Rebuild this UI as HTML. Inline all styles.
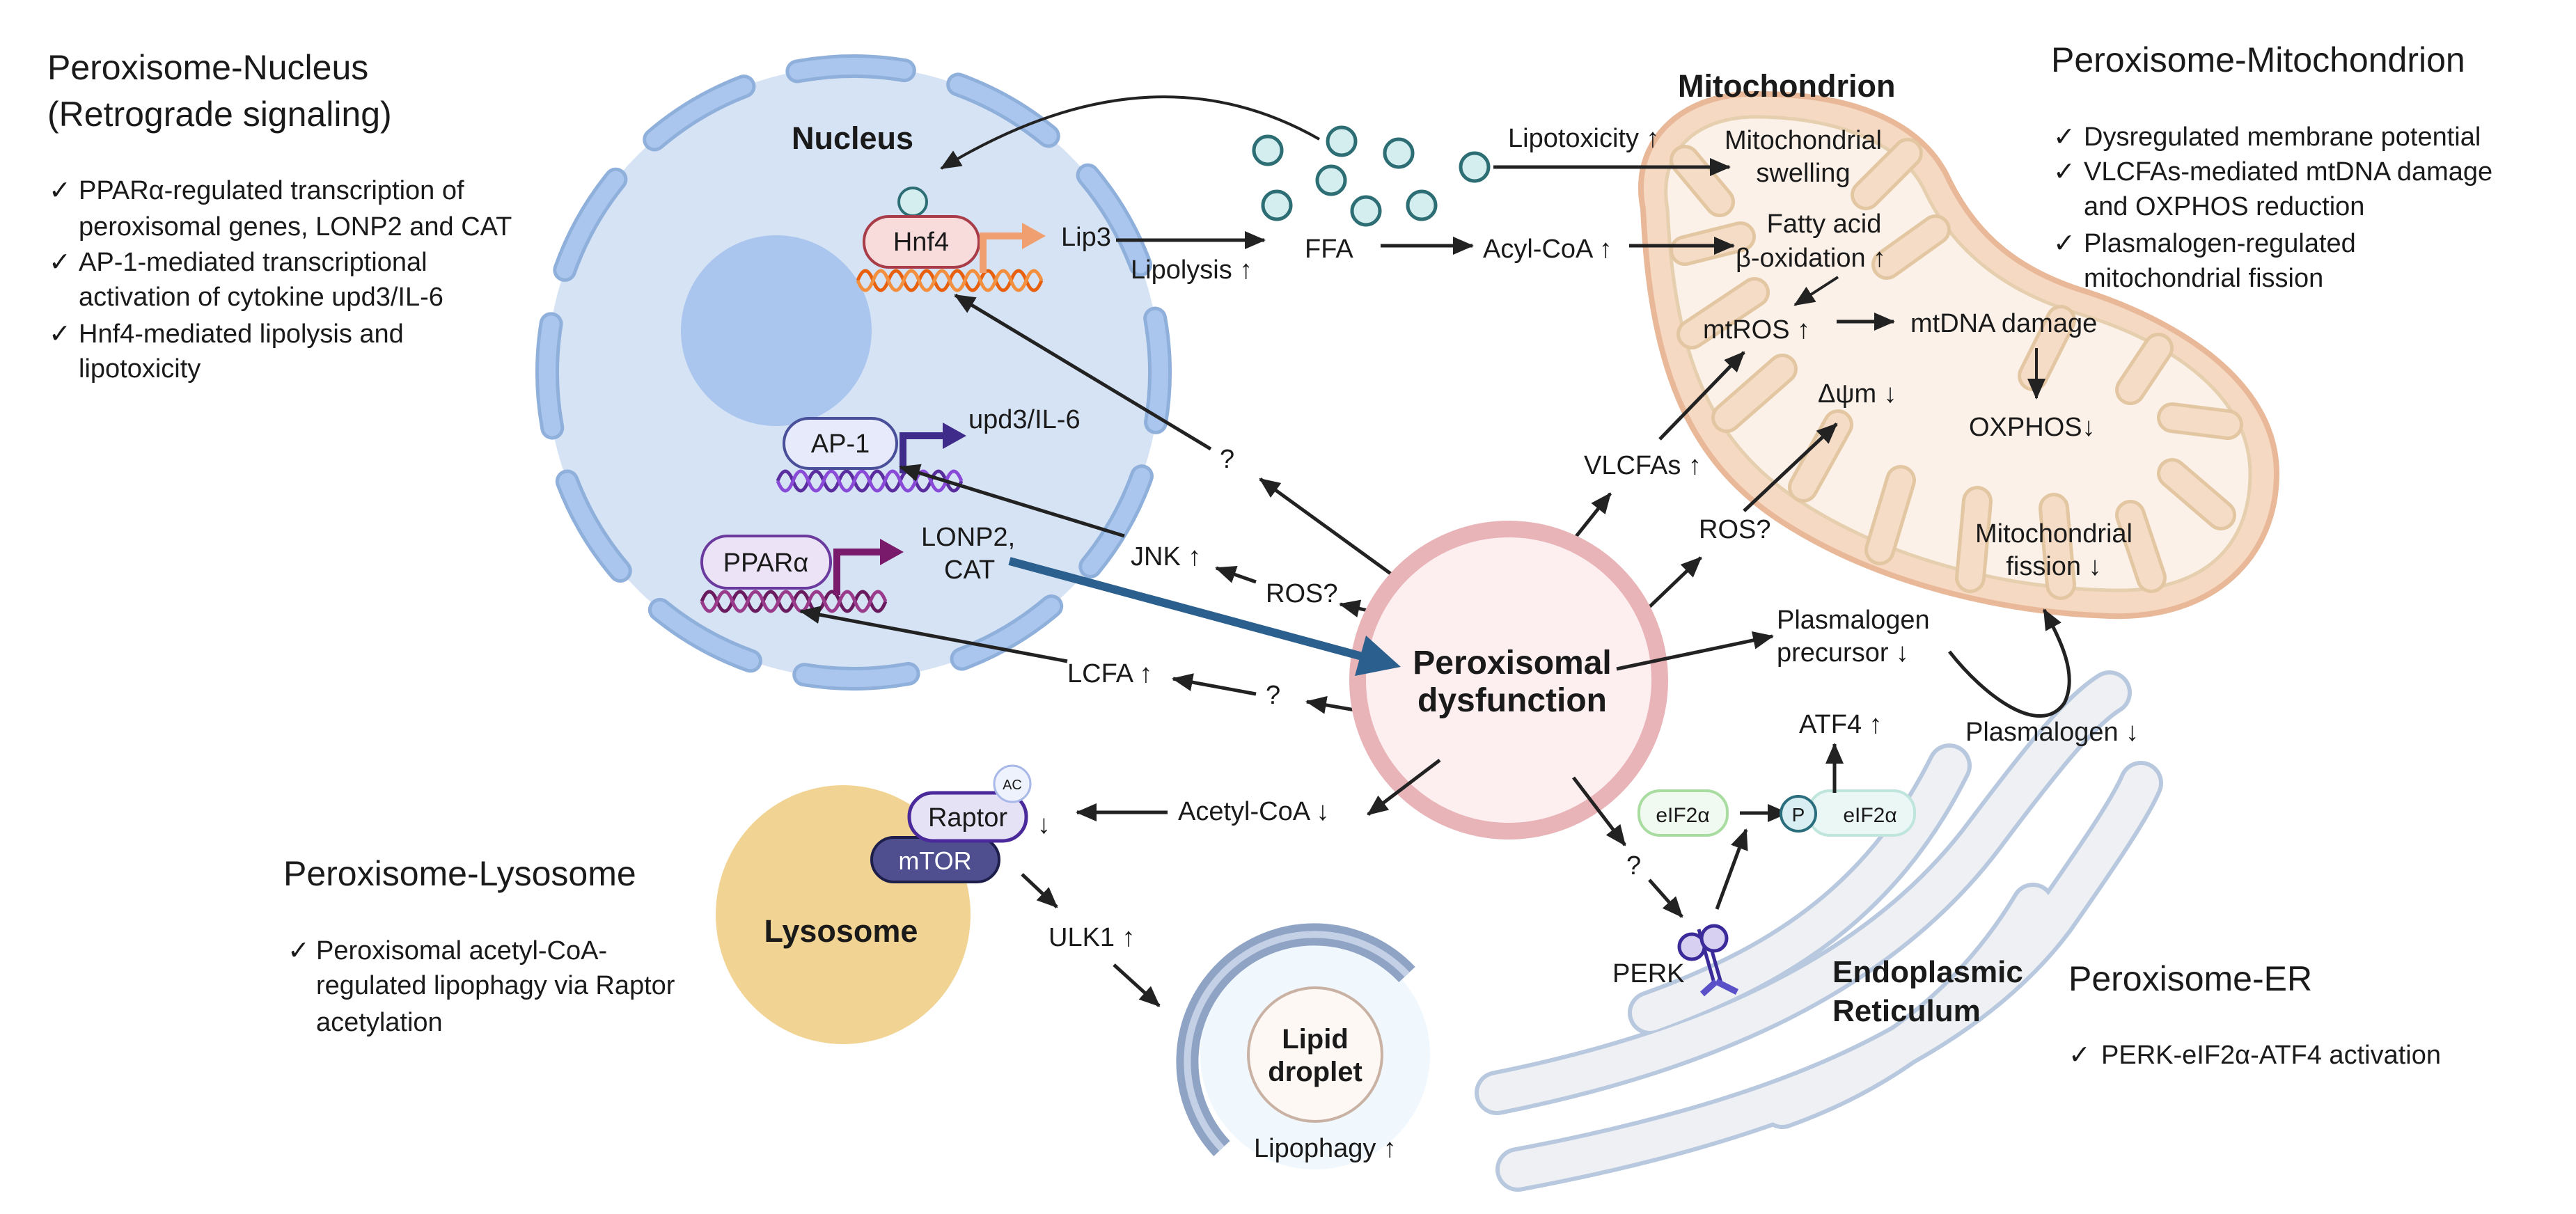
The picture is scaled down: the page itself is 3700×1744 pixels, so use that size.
<!DOCTYPE html>
<html><head><meta charset="utf-8"><style>
html,body{margin:0;padding:0;background:#fff}
svg{display:block}
text{font-family:"Liberation Sans",Arial,sans-serif;fill:#1a1a1a}
.t{font-size:50px}
.b{font-size:38px}
.l{font-size:38px}
.bd{font-weight:bold;font-size:45px}
</style></head><body>
<svg width="3700" height="1744" viewBox="0 0 3700 1744" xmlns="http://www.w3.org/2000/svg">
<defs>
<marker id="a" markerUnits="userSpaceOnUse" markerWidth="30" markerHeight="26" viewBox="0 0 30 26" refX="28" refY="13" orient="auto"><path d="M0,0 L30,13 L0,26 z" fill="#222"/></marker>
</defs>

<!-- Left text -->
<text class="t" x="68" y="114">Peroxisome-Nucleus</text>
<text class="t" x="68" y="181">(Retrograde signaling)</text>
<g class="b">
<text class="b" x="70" y="286">✓</text><text class="b" x="113" y="286">PPARα-regulated transcription of</text>
<text class="b" x="113" y="338">peroxisomal genes, LONP2 and CAT</text>
<text class="b" x="70" y="389">✓</text><text class="b" x="113" y="389">AP-1-mediated transcriptional</text>
<text class="b" x="113" y="439">activation of cytokine upd3/IL-6</text>
<text class="b" x="70" y="492">✓</text><text class="b" x="113" y="492">Hnf4-mediated lipolysis and</text>
<text class="b" x="113" y="542">lipotoxicity</text>
</g>

<!-- Nucleus -->
<circle cx="1226" cy="535" r="440" fill="#d6e3f4"/>
<circle cx="1226" cy="535" r="440" fill="none" stroke="#90b0dc" stroke-width="34" stroke-dasharray="150 80" stroke-linecap="round" transform="rotate(-100 1226 535)"/>
<circle cx="1226" cy="535" r="440" fill="none" stroke="#abc6ee" stroke-width="24" stroke-dasharray="150 80" stroke-linecap="round" transform="rotate(-100 1226 535)"/>
<circle cx="1115" cy="475" r="137" fill="#aac6ee"/>
<text class="bd" x="1137" y="214">Nucleus</text>

<!-- Hnf4 -->
<circle cx="1311" cy="290" r="20" fill="#d4eef0" stroke="#2d6e75" stroke-width="4"/>
<path d="M1232 403 q11 -28 22 0 t22 0 t22 0 t22 0 t22 0 t22 0 t22 0 t22 0 t22 0 t22 0 t22 0 t22 0" fill="none" stroke="#e8600e" stroke-width="5"/>
<path d="M1232 403 q11 28 22 0 t22 0 t22 0 t22 0 t22 0 t22 0 t22 0 t22 0 t22 0 t22 0 t22 0 t22 0" fill="none" stroke="#f39040" stroke-width="5"/>
<rect x="1241" y="311" width="165" height="73" rx="36" fill="#f8dcdc" stroke="#a83c48" stroke-width="4"/>
<text class="l" x="1323" y="360" text-anchor="middle">Hnf4</text>
<path d="M1412 392 V339 H1472" fill="none" stroke="#f0a070" stroke-width="10"/>
<path d="M1468 320 L1502 339 L1468 358 z" fill="#f0a070"/>
<text class="l" x="1524" y="353">Lip3</text>
<text class="l" x="1624" y="400">Lipolysis ↑</text>
<line x1="1603" y1="345" x2="1816" y2="345" stroke="#222" stroke-width="5" marker-end="url(#a)"/>

<!-- AP-1 -->
<path d="M1117 691 q11 -28 22 0 t22 0 t22 0 t22 0 t22 0 t22 0 t22 0 t22 0 t22 0 t22 0 t22 0 t22 0" fill="none" stroke="#5a2d9e" stroke-width="5"/>
<path d="M1117 691 q11 28 22 0 t22 0 t22 0 t22 0 t22 0 t22 0 t22 0 t22 0 t22 0 t22 0 t22 0 t22 0" fill="none" stroke="#8a4ad8" stroke-width="5"/>
<rect x="1126" y="601" width="162" height="72" rx="36" fill="#e6eafa" stroke="#4a4f9a" stroke-width="4"/>
<text class="l" x="1207" y="650" text-anchor="middle">AP-1</text>
<path d="M1297 680 V626 H1358" fill="none" stroke="#3e2b8a" stroke-width="10"/>
<path d="M1354 607 L1388 626 L1354 645 z" fill="#3e2b8a"/>
<text class="l" x="1391" y="615">upd3/IL-6</text>

<!-- PPARa -->
<path d="M1008 864 q11 -28 22 0 t22 0 t22 0 t22 0 t22 0 t22 0 t22 0 t22 0 t22 0 t22 0 t22 0 t22 0" fill="none" stroke="#6a1a5e" stroke-width="5"/>
<path d="M1008 864 q11 28 22 0 t22 0 t22 0 t22 0 t22 0 t22 0 t22 0 t22 0 t22 0 t22 0 t22 0 t22 0" fill="none" stroke="#9a3a8a" stroke-width="5"/>
<rect x="1008" y="770" width="185" height="75" rx="37" fill="#ece4f6" stroke="#6a3a9e" stroke-width="4"/>
<text class="l" x="1100" y="821" text-anchor="middle">PPARα</text>
<path d="M1202 855 V793 H1268" fill="none" stroke="#7a1a6a" stroke-width="10"/>
<path d="M1264 774 L1298 793 L1264 812 z" fill="#7a1a6a"/>
<text class="l" x="1323" y="784">LONP2,</text>
<text class="l" x="1356" y="831">CAT</text>

<!-- arrows into nucleus -->
<path d="M1895 200 Q1650 60 1352 242" fill="none" stroke="#222" stroke-width="4" marker-end="url(#a)"/>
<text class="l" x="1752" y="672">?</text>
<line x1="1739" y1="645" x2="1372" y2="424" stroke="#222" stroke-width="5" marker-end="url(#a)"/>
<text class="l" x="1624" y="812">JNK ↑</text>
<line x1="1615" y1="770" x2="1293" y2="671" stroke="#222" stroke-width="5" marker-end="url(#a)"/>
<text class="l" x="1818" y="865">ROS?</text>
<line x1="1804" y1="836" x2="1747" y2="816" stroke="#222" stroke-width="5" marker-end="url(#a)"/>
<line x1="1995" y1="884" x2="1925" y2="868" stroke="#222" stroke-width="5" marker-end="url(#a)"/>
<line x1="2058" y1="868" x2="1810" y2="688" stroke="#222" stroke-width="5" marker-end="url(#a)"/>
<text class="l" x="1533" y="980">LCFA ↑</text>
<line x1="1804" y1="997" x2="1685" y2="975" stroke="#222" stroke-width="5" marker-end="url(#a)"/>
<text class="l" x="1818" y="1011">?</text>
<line x1="1992" y1="1028" x2="1877" y2="1008" stroke="#222" stroke-width="5" marker-end="url(#a)"/>
<line x1="1533" y1="950" x2="1150" y2="878" stroke="#222" stroke-width="5" marker-end="url(#a)"/>

<!-- FFA droplets -->
<g fill="#d4eef0" stroke="#2d6e75" stroke-width="5">
<circle cx="1821" cy="216" r="20"/><circle cx="1834" cy="295" r="20"/><circle cx="1927" cy="203" r="20"/>
<circle cx="2009" cy="220" r="20"/><circle cx="1912" cy="259" r="20"/><circle cx="2118" cy="240" r="20"/>
<circle cx="1962" cy="303" r="20"/><circle cx="2042" cy="295" r="20"/>
</g>
<text class="l" x="1874" y="370">FFA</text>
<line x1="1983" y1="353" x2="2115" y2="353" stroke="#222" stroke-width="5" marker-end="url(#a)"/>
<text class="l" x="2130" y="370">Acyl-CoA ↑</text>

<!-- Mitochondrion -->
<path d="M2360 300 C2340 200 2420 130 2530 135 C2650 135 2760 170 2800 260 C2840 340 2900 390 3000 420 C3150 470 3270 560 3270 680 C3270 800 3180 890 3030 885 C2880 880 2700 840 2560 750 C2420 660 2370 520 2360 300 Z" fill="#f5d9c2" stroke="#e8b898" stroke-width="8"/>
<path d="M2395 300 C2380 215 2440 165 2530 168 C2630 170 2730 200 2765 275 C2805 360 2880 420 2990 452 C3130 495 3232 575 3232 680 C3232 790 3160 852 3030 848 C2890 845 2720 808 2585 720 C2455 635 2405 510 2395 300 Z" fill="#fbf1e8" stroke="#e6cfae" stroke-width="5"/>
<g fill="none" stroke-linecap="round">
<g stroke="#e3c7a2" stroke-width="44">
<path d="M2420 230 L2470 290"/><path d="M2420 360 L2500 340"/><path d="M2430 480 L2520 420"/>
<path d="M2480 600 L2560 530"/><path d="M2590 700 L2640 610"/><path d="M2700 790 L2730 690"/>
<path d="M2830 830 L2840 720"/><path d="M2960 840 L2950 730"/><path d="M3090 830 L3060 740"/>
<path d="M3190 740 L3120 680"/><path d="M3200 610 L3120 600"/><path d="M3100 500 L3060 560"/>
<path d="M2960 460 L2920 540"/><path d="M2780 330 L2710 380"/><path d="M2740 220 L2680 280"/>
</g>
<g stroke="#f5dcc6" stroke-width="34">
<path d="M2420 230 L2470 290"/><path d="M2420 360 L2500 340"/><path d="M2430 480 L2520 420"/>
<path d="M2480 600 L2560 530"/><path d="M2590 700 L2640 610"/><path d="M2700 790 L2730 690"/>
<path d="M2830 830 L2840 720"/><path d="M2960 840 L2950 730"/><path d="M3090 830 L3060 740"/>
<path d="M3190 740 L3120 680"/><path d="M3200 610 L3120 600"/><path d="M3100 500 L3060 560"/>
<path d="M2960 460 L2920 540"/><path d="M2780 330 L2710 380"/><path d="M2740 220 L2680 280"/>
</g>
</g>
<text class="bd" x="2410" y="139">Mitochondrion</text>
<text class="l" x="2166" y="211">Lipotoxicity ↑</text>
<line x1="2145" y1="240" x2="2484" y2="240" stroke="#222" stroke-width="5" marker-end="url(#a)"/>
<text class="l" x="2590" y="214" text-anchor="middle">Mitochondrial</text>
<text class="l" x="2590" y="261" text-anchor="middle">swelling</text>
<line x1="2340" y1="353" x2="2490" y2="353" stroke="#222" stroke-width="5" marker-end="url(#a)"/>
<text class="l" x="2620" y="334" text-anchor="middle">Fatty acid</text>
<text class="l" x="2493" y="383">β-oxidation ↑</text>
<line x1="2640" y1="398" x2="2578" y2="438" stroke="#222" stroke-width="4" marker-end="url(#a)"/>
<text class="l" x="2446" y="486">mtROS ↑</text>
<line x1="2638" y1="462" x2="2720" y2="462" stroke="#222" stroke-width="5" marker-end="url(#a)"/>
<text class="l" x="2744" y="477">mtDNA damage</text>
<line x1="2925" y1="500" x2="2925" y2="572" stroke="#222" stroke-width="4" marker-end="url(#a)"/>
<text class="l" x="2828" y="626">OXPHOS↓</text>
<text class="l" x="2611" y="578">Δψm ↓</text>
<text class="l" x="2950" y="779" text-anchor="middle">Mitochondrial</text>
<text class="l" x="2950" y="826" text-anchor="middle">fission ↓</text>
<text class="l" x="2275" y="681">VLCFAs ↑</text>
<line x1="2384" y1="631" x2="2505" y2="506" stroke="#222" stroke-width="5" marker-end="url(#a)"/>
<text class="l" x="2440" y="773">ROS?</text>
<line x1="2505" y1="734" x2="2638" y2="609" stroke="#222" stroke-width="5" marker-end="url(#a)"/>
<line x1="2222" y1="823" x2="2313" y2="709" stroke="#222" stroke-width="5" marker-end="url(#a)"/>
<line x1="2369" y1="872" x2="2443" y2="801" stroke="#222" stroke-width="5" marker-end="url(#a)"/>

<!-- Right text -->
<text class="t" x="2946" y="103">Peroxisome-Mitochondrion</text>
<text class="b" x="2949" y="209">✓</text><text class="b" x="2993" y="209">Dysregulated membrane potential</text>
<text class="b" x="2949" y="259">✓</text><text class="b" x="2993" y="259">VLCFAs-mediated mtDNA damage</text>
<text class="b" x="2993" y="309">and OXPHOS reduction</text>
<text class="b" x="2949" y="362">✓</text><text class="b" x="2993" y="362">Plasmalogen-regulated</text>
<text class="b" x="2993" y="412">mitochondrial fission</text>

<!-- ER -->
<g fill="none" stroke-linecap="round">
<g stroke="#b8c8de" stroke-width="64">
<path d="M2150 1570 C2450 1510 2700 1400 2850 1200 C2940 1080 2990 1020 3030 995"/>
<path d="M2180 1680 C2500 1620 2800 1520 2950 1320 C3020 1220 3060 1160 3075 1125"/>
<path d="M2370 1455 C2550 1390 2700 1300 2800 1100"/>
<path d="M2560 1590 C2700 1540 2830 1450 2920 1300"/>
</g>
<g stroke="#eef0f3" stroke-width="52">
<path d="M2150 1570 C2450 1510 2700 1400 2850 1200 C2940 1080 2990 1020 3030 995"/>
<path d="M2180 1680 C2500 1620 2800 1520 2950 1320 C3020 1220 3060 1160 3075 1125"/>
<path d="M2370 1455 C2550 1390 2700 1300 2800 1100"/>
<path d="M2560 1590 C2700 1540 2830 1450 2920 1300"/>
</g>
</g>
<text class="bd" x="2632" y="1411" style="font-size:44px">Endoplasmic</text>
<text class="bd" x="2632" y="1467" style="font-size:44px">Reticulum</text>

<!-- Peroxisomal dysfunction -->
<circle cx="2167" cy="977" r="217" fill="#fdeef0" stroke="#e8b4b8" stroke-width="24"/>
<text class="bd" x="2172" y="968" text-anchor="middle" style="font-size:48px">Peroxisomal</text>
<text class="bd" x="2172" y="1022" text-anchor="middle" style="font-size:48px">dysfunction</text>
<line x1="1450" y1="806" x2="1960" y2="944" stroke="#2b5f8e" stroke-width="12"/>
<path d="M2012 958 L1946 971 L1962 913 z" fill="#2b5f8e"/>
<line x1="2322" y1="961" x2="2546" y2="914" stroke="#222" stroke-width="5" marker-end="url(#a)"/>
<text class="l" x="2552" y="903">Plasmalogen</text>
<text class="l" x="2552" y="950">precursor ↓</text>
<path d="M2800 936 C2850 1000 2930 1060 2965 1010 C2985 970 2960 920 2936 876" fill="none" stroke="#222" stroke-width="5" marker-end="url(#a)"/>
<text class="l" x="2823" y="1064">Plasmalogen ↓</text>

<!-- PERK path -->
<line x1="2260" y1="1117" x2="2334" y2="1214" stroke="#222" stroke-width="5" marker-end="url(#a)"/>
<text class="l" x="2336" y="1256">?</text>
<line x1="2369" y1="1264" x2="2416" y2="1317" stroke="#222" stroke-width="5" marker-end="url(#a)"/>
<text class="l" x="2316" y="1411">PERK</text>
<g stroke="#3a2a9a" stroke-width="5">
<line x1="2440" y1="1335" x2="2462" y2="1412"/><line x1="2450" y1="1335" x2="2472" y2="1412"/>
<circle cx="2430" cy="1360" r="18" fill="#d8d0f0"/><circle cx="2462" cy="1348" r="18" fill="#d8d0f0"/>
</g>
<path d="M2465 1410 L2445 1428 M2465 1410 L2495 1425" stroke="#5a50c8" stroke-width="9" fill="none"/>
<line x1="2466" y1="1306" x2="2508" y2="1192" stroke="#222" stroke-width="5" marker-end="url(#a)"/>
<rect x="2354" y="1136" width="127" height="64" rx="30" fill="#f0faf0" stroke="#a8dca0" stroke-width="4"/>
<text x="2417" y="1181" text-anchor="middle" style="font-size:30px">eIF2α</text>
<line x1="2499" y1="1168" x2="2567" y2="1168" stroke="#222" stroke-width="5" marker-end="url(#a)"/>
<rect x="2598" y="1136" width="152" height="64" rx="30" fill="#eaf7f5" stroke="#bfe5dc" stroke-width="4"/>
<circle cx="2583" cy="1169" r="25" fill="#d8eef2" stroke="#2a6e7e" stroke-width="4"/>
<text x="2583" y="1180" text-anchor="middle" style="font-size:28px">P</text>
<text x="2686" y="1181" text-anchor="middle" style="font-size:30px">eIF2α</text>
<line x1="2635" y1="1139" x2="2635" y2="1069" stroke="#222" stroke-width="5" marker-end="url(#a)"/>
<text class="l" x="2584" y="1053">ATF4 ↑</text>
<text class="t" x="2971" y="1423">Peroxisome-ER</text>
<text class="b" x="2971" y="1528">✓</text><text class="b" x="3018" y="1528">PERK-eIF2α-ATF4 activation</text>

<!-- Lysosome -->
<ellipse cx="1211" cy="1314" rx="183" ry="186" fill="#f1d393"/>
<text class="bd" x="1208" y="1353" text-anchor="middle">Lysosome</text>
<rect x="1252" y="1203" width="183" height="64" rx="32" fill="#4f4f8f" stroke="#1e1e4a" stroke-width="4"/>
<text x="1343" y="1249" text-anchor="middle" style="font-size:36px;fill:#fff">mTOR</text>
<rect x="1306" y="1139" width="168" height="69" rx="34" fill="#e6e2f6" stroke="#4a2a9a" stroke-width="5"/>
<text class="l" x="1390" y="1187" text-anchor="middle">Raptor</text>
<circle cx="1454" cy="1126" r="26" fill="#eef2fc" stroke="#a8b8e8" stroke-width="3"/>
<text x="1454" y="1134" text-anchor="middle" style="font-size:20px">AC</text>
<text class="l" x="1490" y="1197">↓</text>
<line x1="1677" y1="1167" x2="1547" y2="1167" stroke="#222" stroke-width="5" marker-end="url(#a)"/>
<text class="l" x="1692" y="1178">Acetyl-CoA ↓</text>
<line x1="2068" y1="1092" x2="1965" y2="1170" stroke="#222" stroke-width="5" marker-end="url(#a)"/>
<line x1="1468" y1="1256" x2="1518" y2="1303" stroke="#222" stroke-width="5" marker-end="url(#a)"/>
<text class="l" x="1506" y="1359">ULK1 ↑</text>
<line x1="1600" y1="1386" x2="1665" y2="1445" stroke="#222" stroke-width="5" marker-end="url(#a)"/>
<text class="t" x="407" y="1272">Peroxisome-Lysosome</text>
<text class="b" x="413" y="1378">✓</text><text class="b" x="454" y="1378">Peroxisomal acetyl-CoA-</text>
<text class="b" x="454" y="1428">regulated lipophagy via Raptor</text>
<text class="b" x="454" y="1481">acetylation</text>

<!-- Lipid droplet -->
<circle cx="1889" cy="1515" r="165" fill="#f0f8fd"/>
<path d="M1755 1650 A180 180 0 1 1 2021 1400" fill="none" stroke="#8fa3c4" stroke-width="32"/>
<path d="M1755 1650 A180 180 0 1 1 2021 1400" fill="none" stroke="#c3d0e6" stroke-width="10"/>
<circle cx="1889" cy="1515" r="96" fill="#fdf8f4" stroke="#c9b2a4" stroke-width="4"/>
<text class="bd" x="1889" y="1506" text-anchor="middle" style="font-size:40px">Lipid</text>
<text class="bd" x="1889" y="1553" text-anchor="middle" style="font-size:40px">droplet</text>
<text class="l" x="1801" y="1662">Lipophagy ↑</text>
</svg>
</body></html>
